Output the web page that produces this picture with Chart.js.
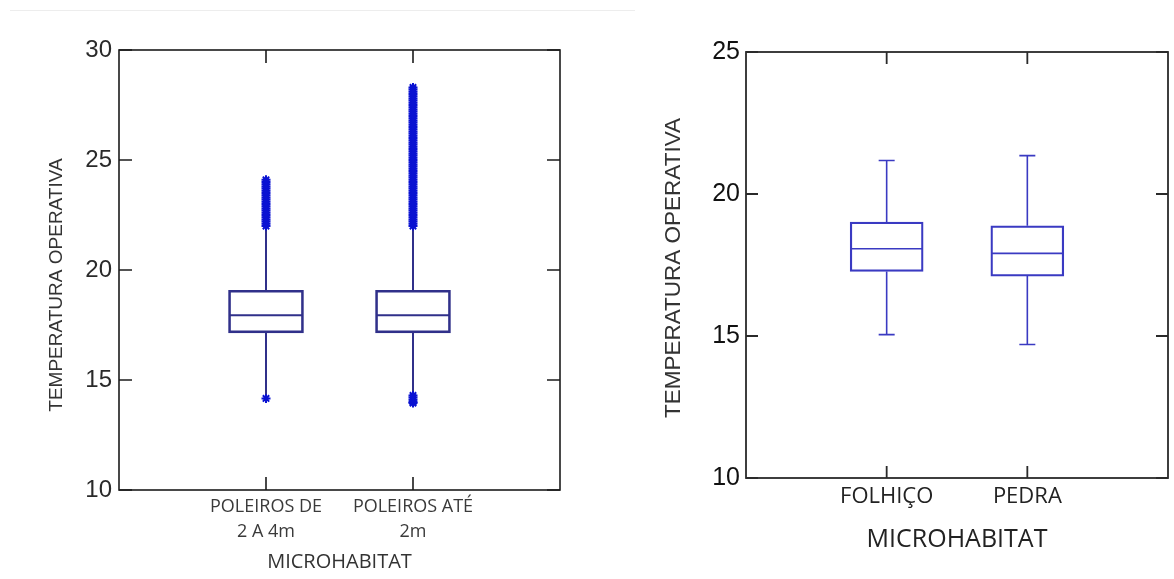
<!DOCTYPE html>
<html>
<head>
<meta charset="utf-8">
<title>Temperatura operativa por microhabitat</title>
<script src="https://cdn.jsdelivr.net/npm/chart.js@4"></script>
<style>
    html, body { margin: 0; padding: 0; background: #fff; }
    body { width: 1174px; height: 579px; position: relative; overflow: hidden; }
    .topline { position: absolute; left: 10px; top: 10px; width: 625px; border-top: 1px solid #ededed; }
    #leftWrap { position: absolute; left: 0; top: 0; width: 600px; height: 579px; }
    #rightWrap { position: absolute; left: 620px; top: 0; width: 554px; height: 579px; }
</style>
</head>
<body>
<div class="topline"></div>
<div id="leftWrap"><canvas id="leftChart" width="600" height="579"></canvas></div>
<div id="rightWrap"><canvas id="rightChart" width="554" height="579"></canvas></div>
<script>
// left panel: perch height
const leftCategories = [['POLEIROS DE', '2 A 4m'], ['POLEIROS ATÉ', '2m']];
const leftQ1 = [17.14, 17.14];
const leftMedian = [17.94, 17.94];
const leftQ3 = [19.08, 19.08];
const leftLow = [14.3, 14.25];
const leftHigh = [22.0, 22.0];
const leftYTicks = [10, 15, 20, 25, 30];

// outliers (dense columns of asterisks)
const outliersLow24 = [22.0, 22.1, 22.2, 22.3, 22.4, 22.5, 22.6, 22.7, 22.8, 22.9, 23.0,
    23.1, 23.2, 23.3, 23.4, 23.5, 23.6, 23.7, 23.8, 23.9, 24.0, 24.1, 14.16];
const outliersAte2 = [22.0, 22.1, 22.2, 22.3, 22.4, 22.5, 22.6, 22.7, 22.8, 22.9, 23.0,
    23.1, 23.2, 23.3, 23.4, 23.5, 23.6, 23.7, 23.8, 23.9, 24.0, 24.1, 24.2, 24.3, 24.4,
    24.5, 24.6, 24.7, 24.8, 24.9, 25.0, 25.1, 25.2, 25.3, 25.4, 25.5, 25.6, 25.7, 25.8,
    25.9, 26.0, 26.1, 26.2, 26.3, 26.4, 26.5, 26.6, 26.7, 26.8, 26.9, 27.0, 27.1, 27.2,
    27.3, 27.4, 27.5, 27.6, 27.7, 27.8, 27.9, 28.0, 28.1, 28.2, 28.3,
    14.3, 14.2, 14.1, 14.0, 13.95];

// right panel: ground microhabitat
const rightCategories = ['FOLHIÇO', 'PEDRA'];
const rightQ1 = [17.27, 17.11];
const rightMedian = [18.07, 17.91];
const rightQ3 = [19.01, 18.88];
const rightLow = [15.05, 14.70];
const rightHigh = [21.18, 21.35];
const rightYTicks = [10, 15, 20, 25];

const AXIS_TITLE = 'TEMPERATURA OPERATIVA';
const X_TITLE = 'MICROHABITAT';

// left panel title looks condensed; use the narrow face if it is installed
function leftTitleFont() {
    const ctx = document.createElement('canvas').getContext('2d');
    ctx.font = '23px "Liberation Sans Narrow", monospace';
    const a = ctx.measureText(AXIS_TITLE).width;
    ctx.font = '23px monospace';
    const b = ctx.measureText(AXIS_TITLE).width;
    return a !== b ? '23px "Liberation Sans Narrow"' : '19px "Liberation Sans"';
}

// box frame with inward ticks on all four sides
const frameTicks = {
    id: 'frameTicks',
    afterDraw(chart, args, opts) {
        const { ctx, chartArea: a, scales: { x, y } } = chart;
        ctx.save();
        ctx.strokeStyle = opts.color;
        ctx.lineWidth = opts.width;
        ctx.strokeRect(a.left, a.top, a.right - a.left, a.bottom - a.top);
        ctx.beginPath();
        opts.xTicks.forEach(v => {
            const px = x.getPixelForValue(v);
            ctx.moveTo(px, a.bottom);
            ctx.lineTo(px, a.bottom - opts.len);
            ctx.moveTo(px, a.top);
            ctx.lineTo(px, a.top + opts.len);
        });
        y.ticks.forEach(t => {
            const py = y.getPixelForValue(t.value);
            ctx.moveTo(a.left, py);
            ctx.lineTo(a.left + opts.len, py);
            ctx.moveTo(a.right, py);
            ctx.lineTo(a.right - opts.len, py);
        });
        ctx.stroke();
        ctx.restore();
    }
};

// rotated y title, centred a little off the plot centre like the original
const sideTitle = {
    id: 'sideTitle',
    afterDraw(chart, args, opts) {
        const { ctx, chartArea: a } = chart;
        ctx.save();
        ctx.translate(opts.x, (a.top + a.bottom) / 2 + opts.shift);
        ctx.rotate(-Math.PI / 2);
        ctx.font = opts.font;
        ctx.fillStyle = opts.color;
        ctx.textAlign = 'center';
        ctx.textBaseline = 'middle';
        ctx.fillText(opts.text, 0, 0);
        ctx.restore();
    }
};

// whiskers, caps and median lines drawn on the chart's scales
const whiskers = {
    id: 'whiskers',
    beforeDatasetsDraw(chart, args, opts) {
        const { ctx, scales: { x, y } } = chart;
        ctx.save();
        ctx.strokeStyle = opts.color;
        ctx.lineWidth = opts.width;
        ctx.beginPath();
        opts.low.forEach((lo, i) => {
            const cx = x.getPixelForValue(i + 1);
            const hi = opts.high[i];
            ctx.moveTo(cx, y.getPixelForValue(opts.q1[i]));
            ctx.lineTo(cx, y.getPixelForValue(lo));
            ctx.moveTo(cx, y.getPixelForValue(opts.q3[i]));
            ctx.lineTo(cx, y.getPixelForValue(hi));
            if (opts.cap > 0) {
                ctx.moveTo(cx - opts.cap / 2, y.getPixelForValue(lo));
                ctx.lineTo(cx + opts.cap / 2, y.getPixelForValue(lo));
                ctx.moveTo(cx - opts.cap / 2, y.getPixelForValue(hi));
                ctx.lineTo(cx + opts.cap / 2, y.getPixelForValue(hi));
            }
            const half = opts.boxWidth / 2;
            const my = y.getPixelForValue(opts.median[i]);
            ctx.moveTo(cx - half, my);
            ctx.lineTo(cx + half, my);
        });
        ctx.stroke();
        ctx.restore();
    }
};

function boxData(q1, q3) {
    return q1.map((v, i) => ({ x: i + 1, y: [v, q3[i]] }));
}

function pointData(catIndex, values) {
    return values.map(v => ({ x: catIndex, y: v }));
}

const leftChart = new Chart(document.getElementById('leftChart'), {
    type: 'bar',
    data: {
        datasets: [
            {
                type: 'bar',
                data: boxData(leftQ1, leftQ3),
                backgroundColor: 'rgba(0,0,0,0)',
                borderColor: '#30308a',
                borderWidth: 2,
                borderSkipped: false,
                barThickness: 75
            },
            {
                type: 'scatter',
                data: pointData(1, outliersLow24).concat(pointData(2, outliersAte2)),
                pointStyle: 'star',
                radius: 4.5,
                borderWidth: 2,
                borderColor: '#0a12d2',
                backgroundColor: '#0a12d2'
            }
        ]
    },
    options: {
        responsive: false,
        animation: false,
        layout: { padding: { top: 50, right: 40, left: 0, bottom: 0 } },
        plugins: {
            legend: { display: false },
            tooltip: { enabled: false },
            frameTicks: { color: '#1c1c1c', width: 1.6, len: 13, xTicks: [1, 2] },
            sideTitle: { text: AXIS_TITLE, font: leftTitleFont(), color: '#333', x: 57, shift: 15 },
            whiskers: {
                color: '#30308a', width: 2, cap: 0, boxWidth: 73,
                q1: leftQ1, q3: leftQ3, median: leftMedian, low: leftLow, high: leftHigh
            }
        },
        scales: {
            x: {
                type: 'linear',
                min: 0,
                max: 3,
                offset: false,
                grid: { display: false, drawTicks: false, offset: false },
                border: { display: false },
                ticks: {
                    stepSize: 1,
                    autoSkip: false,
                    maxRotation: 0,
                    padding: 4,
                    color: '#3a3a3a',
                    font: { family: 'Open Sans', size: 18, lineHeight: 1.42 },
                    callback: v => leftCategories[v - 1] || ''
                },
                title: {
                    display: true,
                    text: X_TITLE,
                    color: '#333',
                    font: { family: 'Open Sans', size: 20 },
                    padding: { top: 0, bottom: 5 }
                },
                afterFit: s => { s.height = 89; }
            },
            y: {
                min: leftYTicks[0],
                max: leftYTicks[leftYTicks.length - 1],
                grid: { display: false, drawTicks: false },
                border: { display: false },
                afterBuildTicks: s => { s.ticks = leftYTicks.map(v => ({ value: v })); },
                ticks: {
                    padding: 7,
                    color: '#2a2a2a',
                    font: { family: 'Liberation Sans', size: 24 }
                },
                afterFit: s => { s.width = 119; }
            }
        }
    },
    plugins: [frameTicks, whiskers, sideTitle]
});

const rightChart = new Chart(document.getElementById('rightChart'), {
    type: 'bar',
    data: {
        datasets: [
            {
                type: 'bar',
                data: boxData(rightQ1, rightQ3),
                backgroundColor: 'rgba(0,0,0,0)',
                borderColor: '#3a3ac2',
                borderWidth: 1.6,
                borderSkipped: false,
                barThickness: 73
            }
        ]
    },
    options: {
        responsive: false,
        animation: false,
        layout: { padding: { top: 52, right: 1, left: 0, bottom: 0 } },
        plugins: {
            legend: { display: false },
            tooltip: { enabled: false },
            frameTicks: { color: '#2a2a2a', width: 1.8, len: 12, xTicks: [1, 2] },
            sideTitle: { text: AXIS_TITLE, font: '22.5px "Liberation Sans"', color: '#333', x: 54, shift: 3 },
            whiskers: {
                color: '#3a3ac2', width: 1.6, cap: 16, boxWidth: 71,
                q1: rightQ1, q3: rightQ3, median: rightMedian, low: rightLow, high: rightHigh
            }
        },
        scales: {
            x: {
                type: 'linear',
                min: 0,
                max: 3,
                offset: false,
                grid: { display: false, drawTicks: false, offset: false },
                border: { display: false },
                ticks: {
                    stepSize: 1,
                    autoSkip: false,
                    maxRotation: 0,
                    padding: 6,
                    color: '#222',
                    font: { family: 'Open Sans', size: 22 },
                    callback: v => rightCategories[v - 1] || ''
                },
                title: {
                    display: true,
                    text: X_TITLE,
                    color: '#222',
                    font: { family: 'Open Sans', size: 25 },
                    padding: { top: 0, bottom: 24 }
                },
                afterFit: s => { s.height = 101; }
            },
            y: {
                min: rightYTicks[0],
                max: rightYTicks[rightYTicks.length - 1],
                grid: { display: false, drawTicks: false },
                border: { display: false },
                afterBuildTicks: s => { s.ticks = rightYTicks.map(v => ({ value: v })); },
                ticks: {
                    padding: 6,
                    color: '#111',
                    font: { family: 'Liberation Sans', size: 25 }
                },
                afterFit: s => { s.width = 126; }
            }
        }
    },
    plugins: [frameTicks, whiskers, sideTitle]
});
</script>
</body>
</html>
